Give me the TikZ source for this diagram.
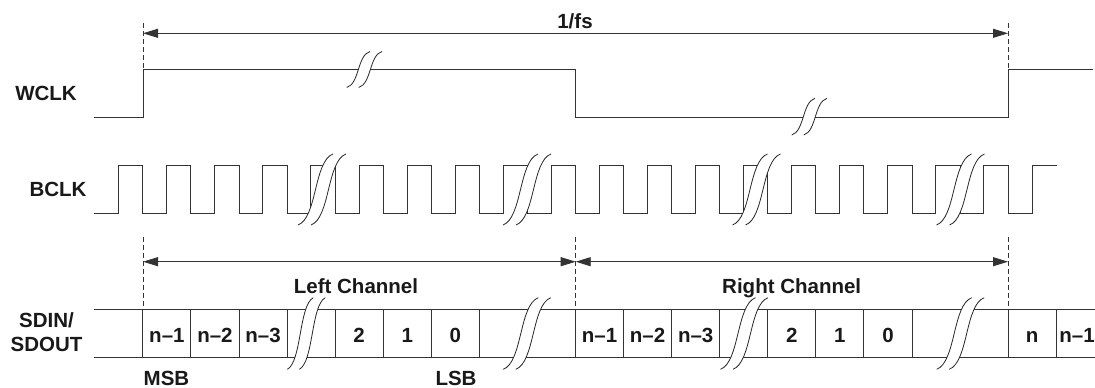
\documentclass[tikz,border=0pt]{standalone}
\usepackage{fontspec}
\setmainfont{Liberation Sans}
\usetikzlibrary{arrows.meta}
\newcommand\brkmark[5]{%
  \fill[white] (#1,#2) .. controls +({0.55*#3},{-0.1*#4}) and +({-0.55*#3},{0.1*#4}) .. ({#1+#3},{#2-#4})
     -- ({#1+#3+#5},{#2-#4}) .. controls +({-0.55*#3},{0.1*#4}) and +({0.55*#3},{-0.1*#4}) .. ({#1+#5},#2) -- cycle;
  \draw[brk] (#1,#2) .. controls +({0.55*#3},{-0.1*#4}) and +({-0.55*#3},{0.1*#4}) .. ({#1+#3},{#2-#4});
  \draw[brk] ({#1+#5},#2) .. controls +({0.55*#3},{-0.1*#4}) and +({-0.55*#3},{0.1*#4}) .. ({#1+#3+#5},{#2-#4});
}
\begin{document}
\begin{tikzpicture}[x=1pt,y=-1pt,
  wave/.style={line width=1pt, draw=black!80},
  brk/.style={line width=0.8pt, draw=black!85},
  guide/.style={line width=0.9pt, draw=black!80, dash pattern=on 5pt off 3pt},
  dim/.style={line width=0.9pt, draw=black!80, {Triangle[length=15pt,width=9pt]}-{Triangle[length=15pt,width=9pt]}},
  lbl/.style={font=\fontsize{20.5}{24.4}\selectfont\bfseries, text=black!90, inner sep=0pt, anchor=base},
]
\useasboundingbox (0,0) rectangle (1095,388);

% ---- WCLK ----
\draw[wave] (94,117.3) -- (143,117.3) -- (143,69.3) -- (575.7,69.3) -- (575.7,117.3)
  -- (1008,117.3) -- (1008,69.3) -- (1093,69.3);

% ---- BCLK ----
\draw[wave] (94,213) \foreach \k in {0,...,18} {
   -- ({118.7+48.07*\k},213) -- ({118.7+48.07*\k},165.5)
   -- ({142.9+48.07*\k},165.5) -- ({142.9+48.07*\k},213) }
   -- (1032,213) -- (1032,165.5) -- (1056.7,165.5);

% ---- SDIN/SDOUT ----
\draw[wave] (94,309.3) -- (1095,309.3);
\draw[wave] (94,357.3) -- (1095,357.3);
\foreach \k in {0,1,2,3,4,5,6,7,9,10,11,12,13,14,15,16,18,19}
  \draw[wave] ({142.9+48.07*\k},309.3) -- ({142.9+48.07*\k},357.3);

% ---- break marks ----
\brkmark{346.7}{87.5}{23.3}{36}{12}
\brkmark{791.7}{135}{23.3}{36.7}{12}
\brkmark{298}{225}{35}{71}{13}
\brkmark{503}{225}{35}{71}{13}
\brkmark{732.5}{225}{35}{71}{13}
\brkmark{936.5}{225}{35}{71}{13}
\brkmark{287.3}{369.3}{26}{71.6}{12}
\brkmark{503.3}{369.3}{35}{71.6}{12.5}
\brkmark{720.5}{369.3}{35}{71.6}{12.5}
\brkmark{936.7}{369.3}{35}{71.6}{12.5}

% ---- guides ----
\coordinate (g1a) at (143,22.7);   \coordinate (g1b) at (143,69.3);
\coordinate (g2a) at (1008,22.7);  \coordinate (g2b) at (1008,69.3);
\coordinate (g3a) at (143,237);    \coordinate (g3b) at (143,309.3);
\coordinate (g4a) at (575.7,237);  \coordinate (g4b) at (575.7,309.3);
\coordinate (g5a) at (1008,237);   \coordinate (g5b) at (1008,309.3);
\foreach \g in {1,...,5} \draw[guide] (g\g a) -- (g\g b);

\coordinate (fsL) at (143,33.3);   \coordinate (fsR) at (1008,33.3);
\coordinate (lcL) at (143,261.7);  \coordinate (lcR) at (575.7,261.7);
\coordinate (rcL) at (575.7,261.7);\coordinate (rcR) at (1008,261.7);
\draw[dim] (fsL) -- (fsR);
\draw[dim] (lcL) -- (lcR);
\draw[dim] (rcL) -- (rcR);

% ---- labels ----
\node[lbl] (fs) at (575,28.3) {1/fs};
\node[lbl] (wclk) at (46,100) {WCLK};
\node[lbl] (bclk) at (58,196) {BCLK};
\node[lbl, align=center, anchor=center] (sdin) at (46.5,332.4) {SDIN/\\SDOUT};
\node[lbl] (lch) at (356,293) {Left Channel};
\node[lbl] (rch) at (791.7,293.3) {Right Channel};
\node[lbl] (msb) at (166.5,385.6) {MSB};
\node[lbl] (lsb) at (456,385.6) {LSB};
\foreach \k/\t in {0/n–1,1/n–2,2/n–3,4/2,5/1,6/0,9/n–1,10/n–2,11/n–3,13/2,14/1,15/0,18/n}
  \node[lbl] (bit\k) at ({166.9+48.07*\k},342.3) {\t};
\node[lbl] (bit19) at (1077,342.3) {n–1};
\end{tikzpicture}
\end{document}
